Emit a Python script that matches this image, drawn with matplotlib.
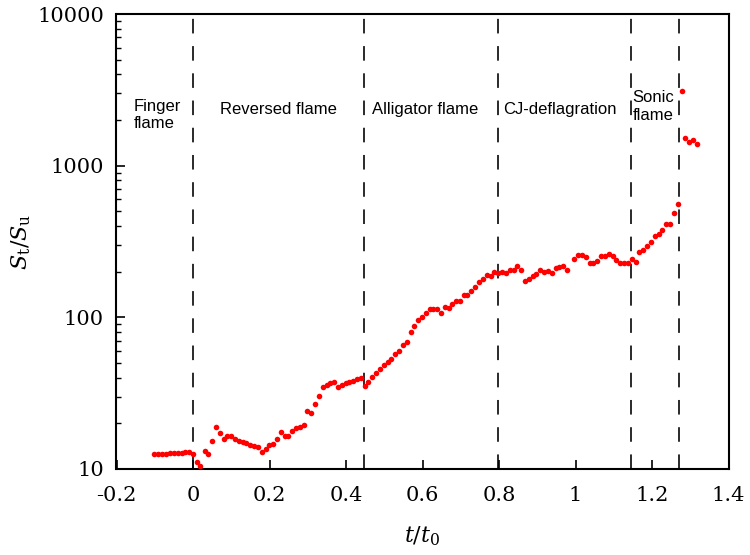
import matplotlib
matplotlib.use("Agg")
import matplotlib.pyplot as plt
from matplotlib.ticker import LogLocator, NullFormatter, FixedLocator

t_vals = [-0.101, -0.091, -0.080, -0.071, -0.060, -0.050, -0.039, -0.030, -0.020, -0.010,
          -0.001, 0.010, 0.019, 0.031, 0.040, 0.050, 0.060, 0.070, 0.080, 0.090,
          0.100, 0.110, 0.120, 0.130, 0.139, 0.150, 0.159, 0.170, 0.180, 0.190,
          0.199, 0.209, 0.220, 0.229, 0.240, 0.249, 0.260, 0.269, 0.279, 0.289,
          0.299, 0.309, 0.319, 0.329, 0.339, 0.350, 0.359, 0.369, 0.379, 0.389,
          0.399, 0.409, 0.418, 0.429, 0.438, 0.449, 0.458, 0.469, 0.479, 0.489,
          0.499, 0.509, 0.518, 0.529, 0.539, 0.549, 0.559, 0.569, 0.579, 0.588,
          0.599, 0.608, 0.619, 0.628, 0.638, 0.648, 0.658, 0.668, 0.678, 0.688,
          0.698, 0.708, 0.717, 0.728, 0.738, 0.748, 0.758, 0.768, 0.778, 0.788,
          0.798, 0.808, 0.818, 0.828, 0.838, 0.848, 0.858, 0.868, 0.878, 0.888,
          0.898, 0.908, 0.918, 0.927, 0.938, 0.948, 0.958, 0.967, 0.978, 0.997,
          1.007, 1.017, 1.027, 1.037, 1.047, 1.057, 1.067, 1.077, 1.088, 1.097,
          1.107, 1.117, 1.127, 1.137, 1.147, 1.157, 1.167, 1.177, 1.187, 1.197,
          1.207, 1.218, 1.227, 1.237, 1.247, 1.257, 1.267, 1.278, 1.287, 1.297,
          1.306, 1.317]

s_vals = [12.56, 12.56, 12.62, 12.62, 12.69, 12.69, 12.75, 12.81, 12.88, 12.94,
          12.5, 11.2, 10.4, 13.2, 12.5, 15.4, 18.8, 17.3, 15.8, 16.6,
          16.6, 15.7, 15.3, 15.1, 14.9, 14.3, 14.2, 13.9, 12.9, 13.5,
          14.5, 14.6, 15.8, 17.6, 16.6, 16.6, 17.8, 18.7, 18.8, 19.4,
          24.2, 23.3, 26.9, 30.3, 34.6, 36.0, 36.9, 37.5, 34.7, 35.6,
          36.7, 37.3, 38.2, 39.2, 40.0, 35.4, 37.5, 40.3, 42.9, 45.4,
          48.2, 50.5, 53.3, 57.0, 59.6, 66.0, 69.0, 80.3, 87.2, 95.5,
          100.9, 106.7, 112.9, 112.9, 114.0, 106.4, 117.5, 115.2, 122.5, 127.6,
          127.6, 140.0, 141.0, 149.0, 159.0, 171.0, 180.0, 190.0, 188.0, 200.0,
          195.0, 198.0, 197.0, 204.0, 206.0, 219.0, 206.0, 174.0, 178.0, 188.0,
          192.0, 204.0, 199.0, 203.0, 196.0, 211.0, 214.0, 218.0, 206.0, 243.0,
          257.0, 259.0, 249.0, 228.0, 228.0, 236.0, 254.0, 253.0, 260.0, 254.0,
          237.0, 229.0, 228.0, 228.0, 242.0, 232.0, 270.0, 278.0, 295.0, 315.0,
          344.0, 356.0, 374.0, 415.0, 415.0, 490.0, 555.0, 3130.0, 1528.0, 1425.0,
          1475.0, 1388.0]

boundaries = [0.0, 0.447, 0.797, 1.145, 1.271]

regime_labels = ["Finger\nflame", "Reversed flame", "Alligator flame", "CJ-deflagration", "Sonic\nflame"]
regime_x = [-0.154, 0.223, 0.608, 0.958, 1.149]
regime_ha = ["left", "center", "center", "center", "left"]
regime_y = [2150, 2330, 2330, 2330, 2450]

x_ticks = [-0.2, 0, 0.2, 0.4, 0.6, 0.8, 1, 1.2, 1.4]
x_tick_labels = ["-0.2", "0", "0.2", "0.4", "0.6", "0.8", "1", "1.2", "1.4"]
y_ticks = [10, 100, 1000, 10000]
y_tick_labels = ["10", "100", "1000", "10000"]

plt.rcParams['mathtext.fontset'] = 'dejavuserif'

fig = plt.figure(figsize=(7.5, 5.55), dpi=100)
ax = fig.add_axes([116.5 / 750, 1 - 469 / 555, (728.5 - 116.5) / 750, (469 - 14) / 555])

for b in boundaries:
    ax.axvline(b, color="#2a2a2a", lw=1.4, ls=(0, (7.5, 6.5)), zorder=1)

ax.plot(t_vals, s_vals, ls="none", marker="o", ms=4.0, color="#ff0000", mec="none", zorder=3)

ax.set_yscale("log")
ax.set_xlim(-0.2, 1.4)
ax.set_ylim(10, 10000)

ax.xaxis.set_major_locator(FixedLocator(x_ticks))
ax.set_xticklabels(x_tick_labels)
ax.yaxis.set_major_locator(FixedLocator(y_ticks))
ax.set_yticklabels(y_tick_labels)
ax.yaxis.set_minor_locator(LogLocator(base=10, subs=[2, 3, 4, 5, 6, 7, 8, 9]))
ax.yaxis.set_minor_formatter(NullFormatter())

ax.tick_params(axis="both", which="major", direction="in", length=6.5, width=1.2,
               labelsize=15, top=False, right=False)
ax.tick_params(axis="x", which="major", pad=12)
ax.tick_params(axis="y", which="major", pad=9)
ax.tick_params(axis="y", which="minor", direction="in", length=3.5, width=1.0, right=False)
for lab in ax.get_xticklabels() + ax.get_yticklabels():
    lab.set_fontfamily("DejaVu Serif")

for sp in ax.spines.values():
    sp.set_linewidth(1.5)
    sp.set_color("black")

for lbl, xx, yy, ha in zip(regime_labels, regime_x, regime_y, regime_ha):
    ax.text(xx, yy, lbl, ha=ha, va="center", fontsize=12,
            family="Liberation Sans", linespacing=1.2, zorder=4)

ax.set_xlabel(r"$t/t_\mathrm{0}$", fontsize=16, labelpad=14)
ax.set_ylabel(r"$S_\mathrm{t}/S_\mathrm{u}$", fontsize=16, labelpad=3)

fig.savefig("out.png", dpi=100)
